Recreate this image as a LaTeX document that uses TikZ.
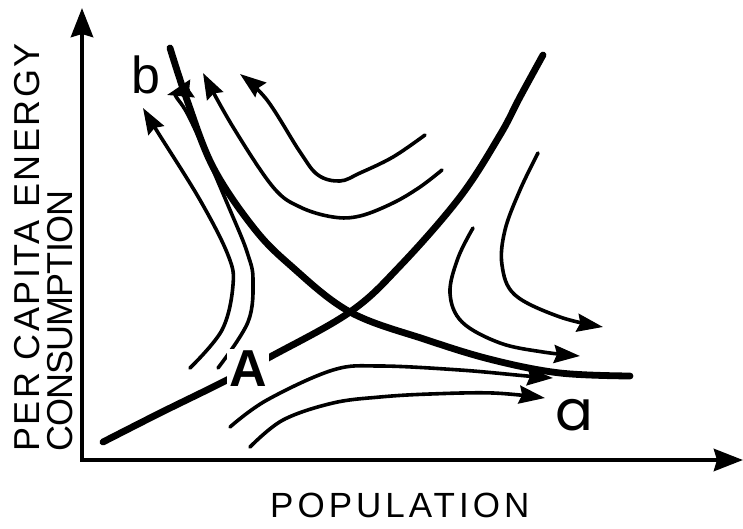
\documentclass[tikz,border=0pt]{standalone}
\usepackage{fontspec}
\setmainfont{Liberation Sans}
\newfontfamily\roundfont{Poppins}
\newfontfamily\widefont[LetterSpace=7]{Liberation Sans}
\newfontfamily\narrowfont[LetterSpace=-2.5]{Liberation Sans}
\newfontfamily\popfont[LetterSpace=11.5]{Liberation Sans}
\usetikzlibrary{arrows.meta}

\tikzset{
  axisline/.style={line width=4.6pt, {Stealth[length=29pt,width=22pt,inset=3pt]}-{Stealth[length=29pt,width=22pt,inset=3pt]}},
  manifold/.style={line width=6.8pt, line cap=round},
  flow/.style={line width=3.6pt, line cap=round, -{Stealth[length=26pt,width=18pt,inset=3pt]}},
}

\begin{document}
\begin{tikzpicture}[x=1pt, y=-1pt]
\useasboundingbox (0,0) rectangle (743,529);

% === Axes ===
\coordinate (ytip) at (82,8);
\coordinate (origin) at (82,460);
\coordinate (xtip) at (743,460);
\draw[axisline] (ytip) -- (origin) -- (xtip);

% Axis labels
\node[rotate=90, anchor=north west, align=left, inner sep=0pt,
      font=\fontsize{36}{33}\selectfont] (ylabel) at (14,452)
     {\widefont PER CAPITA ENERGY\\\narrowfont CONSUMPTION};
\node[anchor=base west, inner sep=0pt, font=\popfont\fontsize{35}{40}\selectfont] (xlabel) at (270,517) {POPULATION};

% === Thick curves ===
% rising curve through A
\draw[manifold] plot[smooth, tension=0.6] coordinates {(103,442) (160,413) (223,382) (270,357) (350,312) (400,266) (460,197) (500,135) (520,97) (543,55)};
% falling curve from b
\draw[manifold] plot[smooth, tension=0.6] coordinates {(170,48) (187,100) (213,167) (253,227) (290,265) (350,312) (427,340) (493,360) (560,373) (630,376)};

% === Thin flow lines ===
% up-left, near b
\draw[flow] plot[smooth, tension=0.6] coordinates {(190,368) (222,330) (233,285) (228,255) (200,200) (157,131) (143,108)};
\draw[flow] plot[smooth, tension=0.6] coordinates {(218,368) (248,322) (253,280) (248,255) (233,217) (187,113) (167,95)};
% up-left, from the right
\draw[flow] plot[smooth, tension=0.6] coordinates {(425,135) (393,157) (360,173) (340,181) (318,175) (300,152) (267,100) (240,74)};
\draw[flow] plot[smooth, tension=0.6] coordinates {(442,170) (420,187) (393,203) (360,216) (333,217) (300,207) (273,187) (233,127) (203,73)};
% down-right
\draw[flow] plot[smooth, tension=0.6] coordinates {(538,153) (520,190) (505,230) (502,265) (515,295) (560,317) (603,327)};
\draw[flow] plot[smooth, tension=0.6] coordinates {(473,228) (458,258) (450,293) (462,322) (500,343) (543,352) (580,356)};
% right, towards a
\draw[flow] plot[smooth, tension=0.6] coordinates {(230,427) (267,400) (333,370) (380,366) (460,370) (527,376) (553,378)};
\draw[flow] plot[smooth, tension=0.6] coordinates {(250,447) (283,420) (333,403) (380,397) (430,394) (493,393) (545,398)};

% === Point labels ===
\node[fill=white, inner sep=2pt, font=\fontsize{52}{52}\selectfont\bfseries] (A) at (248,369) {A};
\node[anchor=base west, inner sep=0pt, font=\fontsize{52}{52}\selectfont] (b) at (131,94) {b};
\node[anchor=base west, inner sep=0pt, font=\roundfont\fontsize{56}{56}\selectfont] (a) at (555,430) {a};

\end{tikzpicture}
\end{document}
